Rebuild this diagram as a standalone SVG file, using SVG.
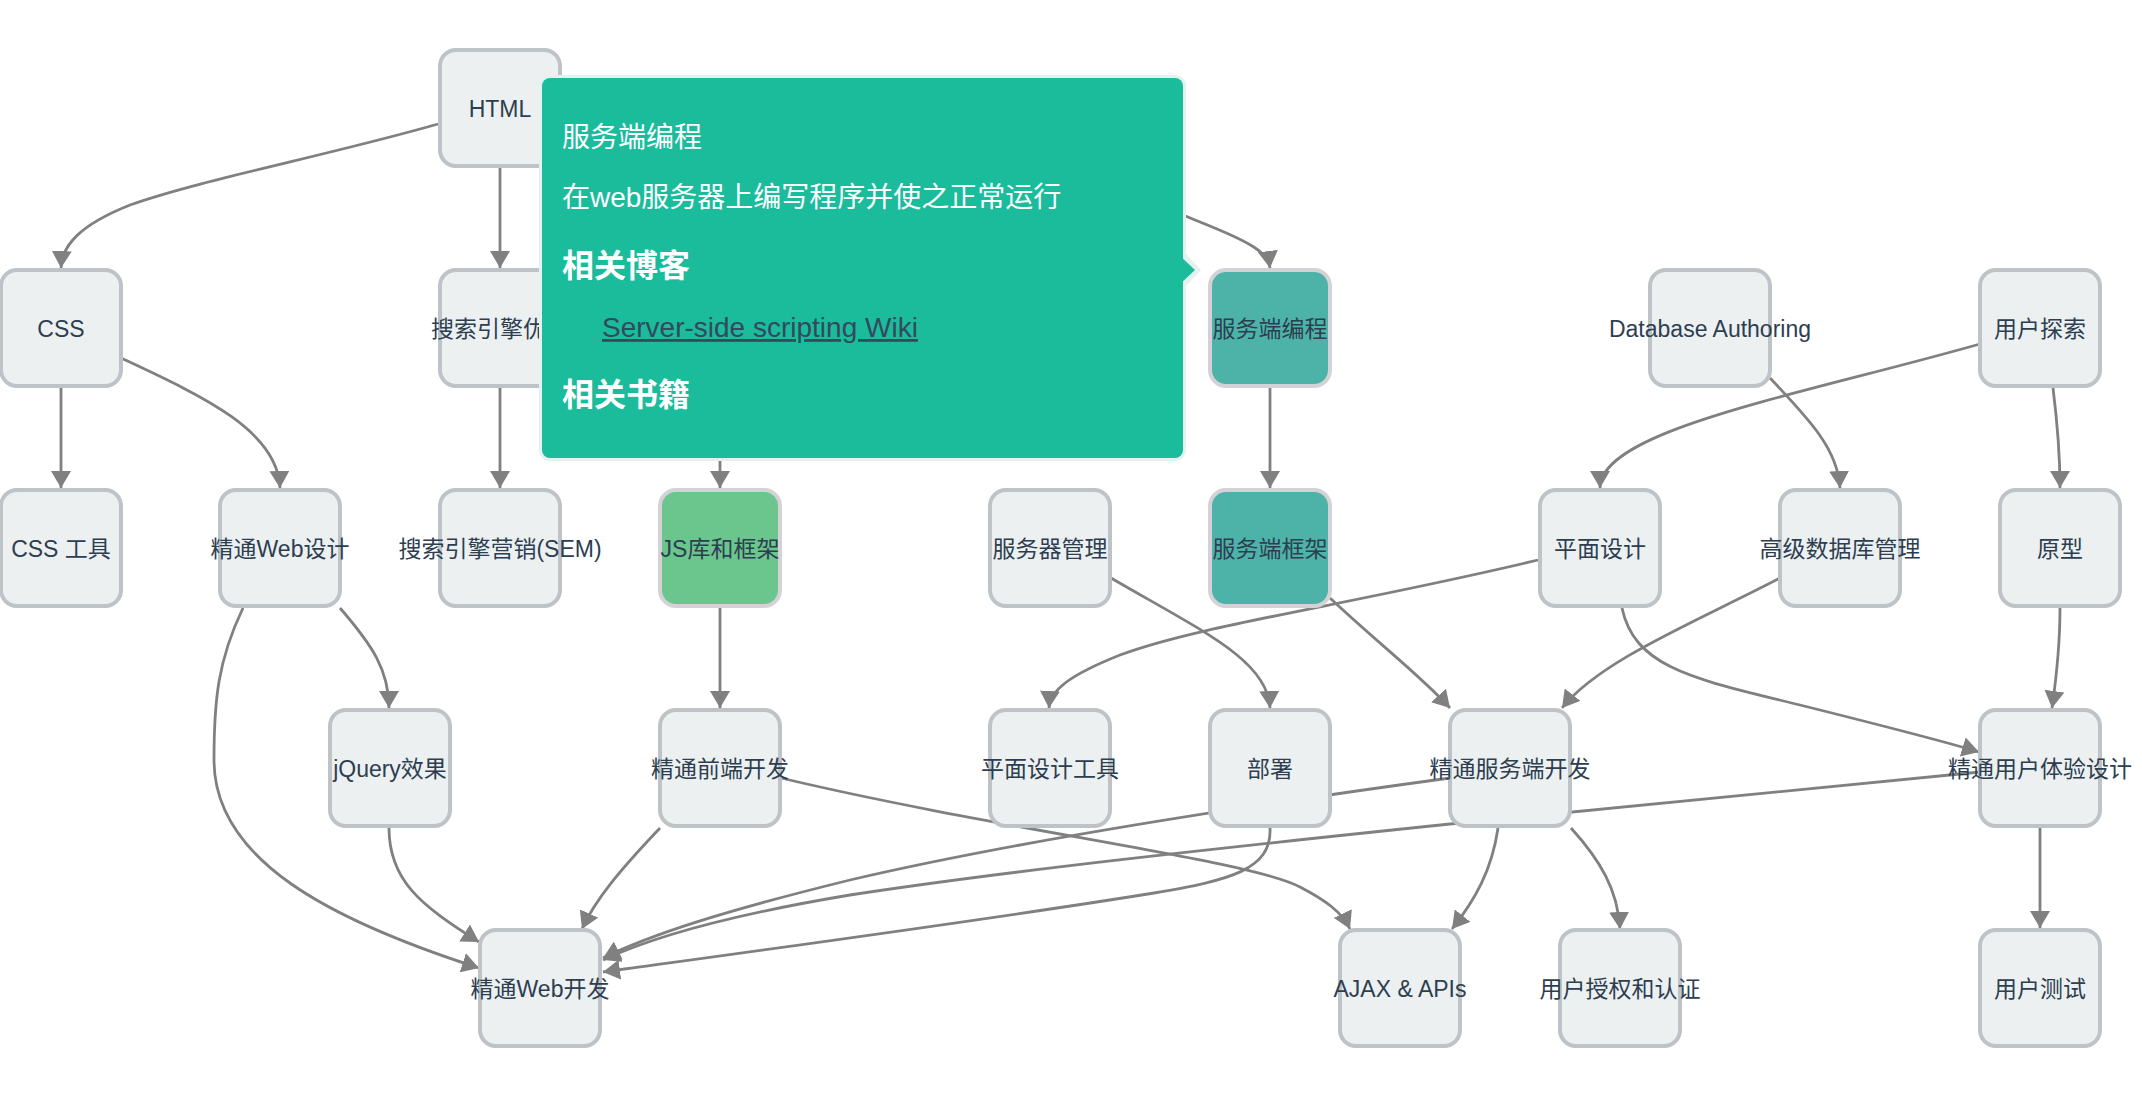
<svg xmlns="http://www.w3.org/2000/svg" width="2142" height="1106" viewBox="0 0 2142 1106">
<style>
.node rect{fill:#ecf0f1;stroke:#bdc3c7;stroke-width:4}
.node.teal rect{fill:#4db3a9;stroke:#d4d2d7}
.node.green rect{fill:#6bc68e;stroke:#d4d2d7}
.node text{font-family:"Liberation Sans","Noto Sans CJK SC",sans-serif;font-size:23px;fill:#2c3e50;text-anchor:middle}
.edges path{fill:none;stroke:#808080;stroke-width:2.8;marker-end:url(#arrow)}
.tip{font-family:"Liberation Sans","Noto Sans CJK SC",sans-serif;fill:#ffffff}
</style>
<defs>
<marker id="arrow" markerUnits="userSpaceOnUse" markerWidth="18" markerHeight="20" refX="17" refY="10" orient="auto">
<path d="M0,0 L17,10 L0,20 Z" fill="#808080"/>
</marker>
</defs>
<rect x="0" y="0" width="2142" height="1106" fill="#ffffff"/>
<g id="edges" class="edges">
<path d="M438,124 C330,155 200,180 130,205 C80,225 62,245 61,268"/>
<path d="M500,168 L500,268"/>
<path d="M61,388 L61,488"/>
<path d="M121,358 C200,395 278,430 280,488"/>
<path d="M500,388 L500,488"/>
<path d="M720,388 L720,488"/>
<path d="M720,608 L720,708"/>
<path d="M1270,388 L1270,488"/>
<path d="M560,100 C900,120 1100,180 1200,222 C1250,242 1268,252 1270,268"/>
<path d="M1770,378 C1810,420 1838,450 1840,488"/>
<path d="M1980,344 C1800,395 1600,430 1600,488"/>
<path d="M2053,388 C2057,420 2060,450 2060,488"/>
<path d="M340,608 C372,645 389,670 389,708"/>
<path d="M243,608 C218,660 214,700 214,760 C214,860 330,920 479,968"/>
<path d="M389,828 C389,880 420,905 479,942"/>
<path d="M660,828 C620,870 595,900 582,929"/>
<path d="M781,778 C1000,830 1250,860 1300,887 C1325,900 1342,912 1350,929"/>
<path d="M1111,578 C1200,630 1268,660 1270,708"/>
<path d="M1538,560 C1350,605 1200,625 1120,655 C1070,675 1050,690 1049,708"/>
<path d="M1330,598 C1380,645 1420,675 1450,708"/>
<path d="M1780,578 C1700,620 1600,660 1562,708"/>
<path d="M1622,608 C1635,670 1700,680 1800,705 C1880,725 1940,740 1979,752"/>
<path d="M2060,608 C2060,650 2056,680 2052,708"/>
<path d="M2040,828 L2040,928"/>
<path d="M1980,772 L1450,824 C1200,850 1000,872 850,895 C730,915 650,938 603,960"/>
<path d="M1450,778 C1200,812 1000,845 850,880 C720,912 650,935 603,958"/>
<path d="M1270,828 C1272,870 1230,880 1154,893 C1000,918 800,945 603,972"/>
<path d="M1498,828 C1492,870 1475,900 1452,929"/>
<path d="M1571,828 C1600,860 1618,890 1620,929"/>
</g>
<g id="n-html" class="node"><rect x="440" y="50" width="120" height="116" rx="16"/><text x="500" y="117">HTML</text></g>
<g id="n-css" class="node"><rect x="1" y="270" width="120" height="116" rx="16"/><text x="61" y="337">CSS</text></g>
<g id="n-seo" class="node"><rect x="440" y="270" width="120" height="116" rx="16"/><text x="500" y="337">搜索引擎优化</text></g>
<g id="n-server-prog" class="node teal"><rect x="1210" y="270" width="120" height="116" rx="16"/><text x="1270" y="337">服务端编程</text></g>
<g id="n-db-auth" class="node"><rect x="1650" y="270" width="120" height="116" rx="16"/><text x="1710" y="337">Database Authoring</text></g>
<g id="n-user-explore" class="node"><rect x="1980" y="270" width="120" height="116" rx="16"/><text x="2040" y="337">用户探索</text></g>
<g id="n-css-tools" class="node"><rect x="1" y="490" width="120" height="116" rx="16"/><text x="61" y="557">CSS 工具</text></g>
<g id="n-web-design" class="node"><rect x="220" y="490" width="120" height="116" rx="16"/><text x="280" y="557">精通Web设计</text></g>
<g id="n-sem" class="node"><rect x="440" y="490" width="120" height="116" rx="16"/><text x="500" y="557">搜索引擎营销(SEM)</text></g>
<g id="n-js-lib" class="node green"><rect x="660" y="490" width="120" height="116" rx="16"/><text x="720" y="557">JS库和框架</text></g>
<g id="n-server-admin" class="node"><rect x="990" y="490" width="120" height="116" rx="16"/><text x="1050" y="557">服务器管理</text></g>
<g id="n-server-fw" class="node teal"><rect x="1210" y="490" width="120" height="116" rx="16"/><text x="1270" y="557">服务端框架</text></g>
<g id="n-graphic" class="node"><rect x="1540" y="490" width="120" height="116" rx="16"/><text x="1600" y="557">平面设计</text></g>
<g id="n-adv-db" class="node"><rect x="1780" y="490" width="120" height="116" rx="16"/><text x="1840" y="557">高级数据库管理</text></g>
<g id="n-proto" class="node"><rect x="2000" y="490" width="120" height="116" rx="16"/><text x="2060" y="557">原型</text></g>
<g id="n-jquery" class="node"><rect x="330" y="710" width="120" height="116" rx="16"/><text x="390" y="777">jQuery效果</text></g>
<g id="n-frontend" class="node"><rect x="660" y="710" width="120" height="116" rx="16"/><text x="720" y="777">精通前端开发</text></g>
<g id="n-graphic-tools" class="node"><rect x="990" y="710" width="120" height="116" rx="16"/><text x="1050" y="777">平面设计工具</text></g>
<g id="n-deploy" class="node"><rect x="1210" y="710" width="120" height="116" rx="16"/><text x="1270" y="777">部署</text></g>
<g id="n-backend" class="node"><rect x="1450" y="710" width="120" height="116" rx="16"/><text x="1510" y="777">精通服务端开发</text></g>
<g id="n-ux" class="node"><rect x="1980" y="710" width="120" height="116" rx="16"/><text x="2040" y="777">精通用户体验设计</text></g>
<g id="n-web-dev" class="node"><rect x="480" y="930" width="120" height="116" rx="16"/><text x="540" y="997">精通Web开发</text></g>
<g id="n-ajax" class="node"><rect x="1340" y="930" width="120" height="116" rx="16"/><text x="1400" y="997">AJAX &amp; APIs</text></g>
<g id="n-auth" class="node"><rect x="1560" y="930" width="120" height="116" rx="16"/><text x="1620" y="997">用户授权和认证</text></g>
<g id="n-user-test" class="node"><rect x="1980" y="930" width="120" height="116" rx="16"/><text x="2040" y="997">用户测试</text></g>
<g id="tooltip">
<polyline points="1181,253 1197,270 1181,287" fill="none" stroke="#e3f2ef" stroke-width="6"/>
<rect x="542" y="78" width="641" height="380" rx="8" fill="#1abc9c" stroke="#e3f2ef" stroke-width="6" paint-order="stroke"/>
<path d="M1178,254 L1195,270 L1178,286 Z" fill="#1abc9c"/>
<text class="tip" x="562" y="147" font-size="28">服务端编程</text>
<text class="tip" x="562" y="207" font-size="28">在web服务器上编写程序并使之正常运行</text>
<text class="tip" x="562" y="277" font-size="32" font-weight="bold">相关博客</text>
<text x="602" y="337" font-family="&quot;Liberation Sans&quot;,&quot;Noto Sans CJK SC&quot;,sans-serif" font-size="28" fill="#34495e" text-decoration="underline">Server-side scripting Wiki</text>
<text class="tip" x="562" y="406" font-size="32" font-weight="bold">相关书籍</text>
</g>
</svg>
